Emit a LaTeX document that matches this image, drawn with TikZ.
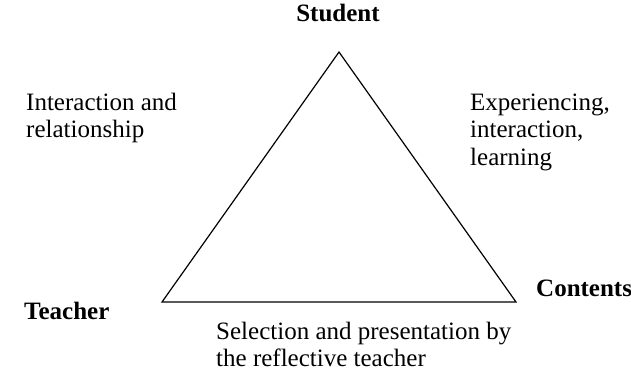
\documentclass[tikz,border=0pt]{standalone}
\usepackage{fontspec}
\setmainfont{Liberation Serif}
\usetikzlibrary{positioning}
\newcommand{\labelsize}{\fontsize{25}{27.5}\selectfont}
\tikzset{
    corner/.style={font=\labelsize\bfseries, inner sep=0pt},
    note/.style={font=\labelsize, align=left, inner sep=0pt},
    side/.style={line width=1.2pt, draw=black, line join=miter}
}

\begin{document}
\begin{tikzpicture}[x=1pt, y=-1pt]
\useasboundingbox (0,0) rectangle (631,372);
\coordinate (apex) at (339,52);
\coordinate (left) at (162,302);
\coordinate (right) at (516,302);
\draw[side] (apex) -- (left) -- (right) -- cycle;
\node[corner, anchor=base] (student) at (338,21) {Student};
\node[corner, anchor=base west] (teacher) at (24,319) {Teacher};
\node[corner, anchor=base west] (contents) at (536,296) {Contents};
\node[note, anchor=base west] (relation) at (26,137.5) {Interaction and\\relationship};
\node[note, anchor=base west] (learning) at (470,165) {Experiencing,\\interaction,\\learning};
\node[note, anchor=base west] (selection) at (216,366.5) {Selection and presentation by\\the reflective teacher};
\end{tikzpicture}
\end{document}
